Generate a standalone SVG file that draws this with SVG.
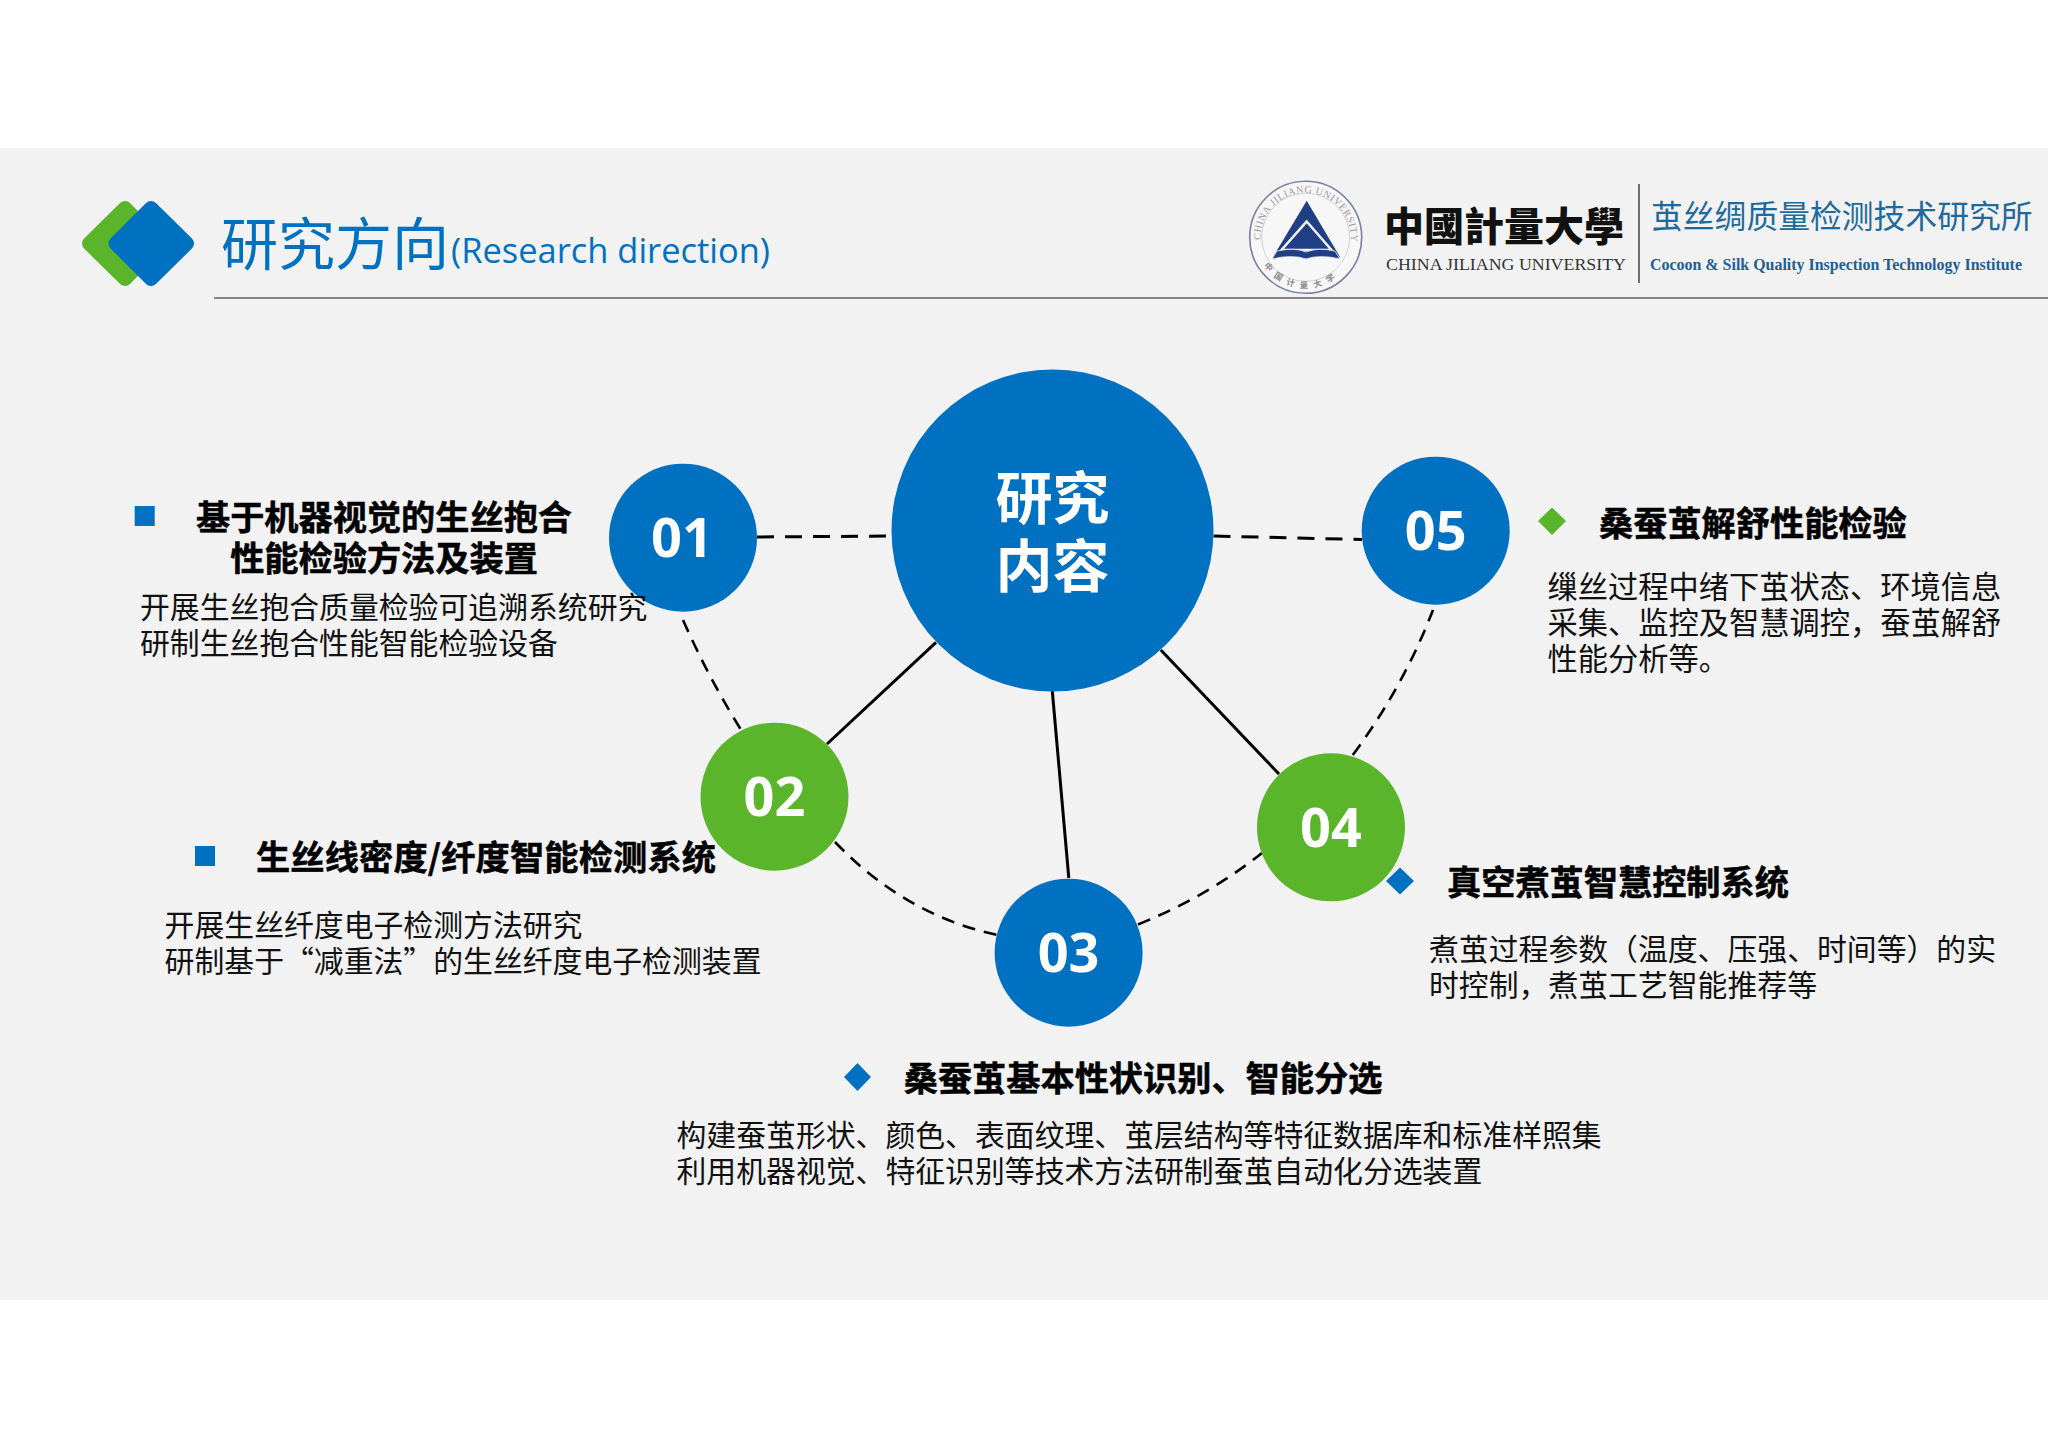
<svg xmlns="http://www.w3.org/2000/svg" width="2048" height="1448" viewBox="0 0 2048 1448">
<defs>
<style>
text{font-family:"Noto Sans CJK SC","Noto Sans",sans-serif}
.body{font-size:29.85px;fill:#111}
.bodyw{font-size:30.25px;fill:#111}
.head{font-size:34.2px;font-weight:700;fill:#000;stroke:#000;stroke-width:0.5px}
.num{font-family:"Open Sans","Noto Sans",sans-serif;font-size:54px;font-weight:700;fill:#fff;text-anchor:middle}
.blue{fill:#0070c0}
.green{fill:#5ab52a}
.solid{stroke:#000;stroke-width:3;fill:none}
.dash{stroke:#000;stroke-width:3;fill:none;stroke-dasharray:17 11}
.dash2{stroke:#000;stroke-width:2.6;fill:none;stroke-dasharray:13 9}
</style>
</defs>
<rect width="2048" height="1448" fill="#fff"/>
<rect x="0" y="148" width="2048" height="1152" fill="#f2f2f2"/>
<g id="header">
<polygon points="125,208 160,243.5 125,279 89,243.5" fill="#5ab52a" stroke="#5ab52a" stroke-width="14" stroke-linejoin="round"/>
<polygon points="151,208 187,243.5 151,279 115.5,243.5" fill="#0070c0" stroke="#0070c0" stroke-width="14" stroke-linejoin="round"/>
<text x="221" y="265" font-size="57" fill="#0070c0">研究方向</text>
<text x="451" y="263" font-size="35" fill="#0070c0" style="font-family:'Open Sans','Noto Sans',sans-serif" textLength="319" lengthAdjust="spacingAndGlyphs">(Research direction)</text>
<line x1="214" y1="298" x2="2048" y2="298" stroke="#868686" stroke-width="2"/>
</g>
<g id="logo">
<circle cx="1305.7" cy="237.3" r="56" fill="#f7f7f7" stroke="#77809f" stroke-width="1.6"/>
<circle cx="1305.7" cy="237.3" r="44" fill="none" stroke="#d2d2d2" stroke-width="1"/>
<path id="sealTop" d="M1260.6,241 A45.2,45.2 0 1 1 1350.8,241" fill="none"/>
<path id="sealBot" d="M1262,262 A49.5,49.5 0 0 0 1349.4,262" fill="none"/>
<text font-size="10" fill="#9a9a9a" style="font-family:'Liberation Serif',serif" letter-spacing="0.55"><textPath href="#sealTop" startOffset="1">CHINA JILIANG UNIVERSITY</textPath></text>
<text font-size="8.5" font-weight="700" fill="#8a8a8a" letter-spacing="6"><textPath href="#sealBot" startOffset="4">中国计量大学</textPath></text>
<polygon points="1306.7,200.7 1340,257 1273,257" fill="#213f85"/>
<polygon points="1306.7,221.5 1331.5,250 1281.5,250" fill="none" stroke="#f2f2f2" stroke-width="2.5"/>
<path d="M1272,259 L1277,251 Q1295,247 1306,252 Q1318,247 1335,251 L1340,259 Q1320,254 1306,259 Q1292,254 1272,259 Z" fill="#213f85" stroke="#f2f2f2" stroke-width="0.8"/>
<text x="1384" y="241" font-size="40" font-weight="900" fill="#111" style="font-family:'Noto Sans CJK TC',sans-serif">中國計量大學</text>
<text x="1386" y="270" font-size="17" fill="#333" style="font-family:'Liberation Serif',serif" textLength="240" lengthAdjust="spacingAndGlyphs">CHINA JILIANG UNIVERSITY</text>
<line x1="1639" y1="184" x2="1639" y2="283" stroke="#444" stroke-width="1.5"/>
<text x="1651" y="228" font-size="31.8" fill="#1f6a9c">茧丝绸质量检测技术研究所</text>
<text x="1650" y="270" font-size="17" font-weight="700" fill="#1f5f94" style="font-family:'Liberation Serif',serif" textLength="372" lengthAdjust="spacingAndGlyphs">Cocoon &amp; Silk Quality Inspection Technology Institute</text>
</g>
<g id="connectors">
<path class="dash" d="M757,537 L892,536"/>
<path class="dash" d="M1213.5,536 L1362,539.5"/>
<path class="solid" d="M936,642.4 L827,744"/>
<path class="solid" d="M1052.3,691 L1068.8,878"/>
<path class="solid" d="M1160.8,650 L1279,774"/>
<path class="dash2" d="M683,620 Q708,676.5 740.5,729"/>
<path class="dash2" d="M835,842 Q905,915 996.5,934.8"/>
<path class="dash2" d="M1138,924.5 Q1208,896 1262,853"/>
<path class="dash2" d="M1352.8,755 Q1403,687.5 1433,610"/>
</g>
<g id="center"><circle class="blue" cx="1052.5" cy="530.5" r="161"/>
<text x="1052.5" y="519" font-size="57" font-weight="700" fill="#fff" text-anchor="middle">研究</text>
<text x="1052.5" y="587" font-size="57" font-weight="700" fill="#fff" text-anchor="middle">内容</text></g>
<g id="node01"><circle class="blue" cx="683" cy="537.7" r="74"/><text class="num" x="682" y="557">01</text>
<rect class="blue" x="134.7" y="506" width="20" height="20"/>
<text class="head" x="384" y="530" text-anchor="middle">基于机器视觉的生丝抱合</text>
<text class="head" x="384" y="571" text-anchor="middle">性能检验方法及装置</text>
<text class="body" x="140" y="618">开展生丝抱合质量检验可追溯系统研究</text>
<text class="body" x="140" y="654">研制生丝抱合性能智能检验设备</text></g>
<g id="node02"><circle class="green" cx="774.5" cy="796.7" r="74"/><text class="num" x="774.5" y="816">02</text>
<rect class="blue" x="195" y="846" width="20" height="20"/>
<text class="head" x="256" y="870" textLength="460" lengthAdjust="spacing">生丝线密度/纤度智能检测系统</text>
<text class="body" x="164.6" y="936">开展生丝纤度电子检测方法研究</text>
<text class="body" x="164.6" y="972">研制基于“减重法”的生丝纤度电子检测装置</text></g>
<g id="node03"><circle class="blue" cx="1068.6" cy="952.7" r="74"/><text class="num" x="1068.6" y="972">03</text>
<polygon class="blue" points="857.5,1063 871,1077 857.5,1091 844,1077"/>
<text class="head" x="903.7" y="1091">桑蚕茧基本性状识别、智能分选</text>
<text class="body" x="676.5" y="1146">构建蚕茧形状、颜色、表面纹理、茧层结构等特征数据库和标准样照集</text>
<text class="body" x="676.5" y="1182">利用机器视觉、特征识别等技术方法研制蚕茧自动化分选装置</text></g>
<g id="node04"><circle class="green" cx="1331" cy="827.3" r="74"/><text class="num" x="1331" y="847">04</text>
<polygon class="blue" points="1400,867.4 1414,881 1400,894.6 1386,881"/>
<text class="head" x="1447" y="895">真空煮茧智慧控制系统</text>
<text class="body" x="1429" y="960">煮茧过程参数（温度、压强、时间等）的实</text>
<text class="body" x="1429" y="996">时控制，煮茧工艺智能推荐等</text></g>
<g id="node05"><circle class="blue" cx="1435.7" cy="530.7" r="74"/><text class="num" x="1435.7" y="550">05</text>
<polygon class="green" points="1552,507.5 1566,521 1552,535 1538,521"/>
<text class="head" x="1599" y="535.5">桑蚕茧解舒性能检验</text>
<text class="bodyw" x="1547.5" y="598">缫丝过程中绪下茧状态、环境信息</text>
<text class="bodyw" x="1547.5" y="634">采集、监控及智慧调控，蚕茧解舒</text>
<text class="bodyw" x="1547.5" y="670">性能分析等。</text></g>
</svg>
